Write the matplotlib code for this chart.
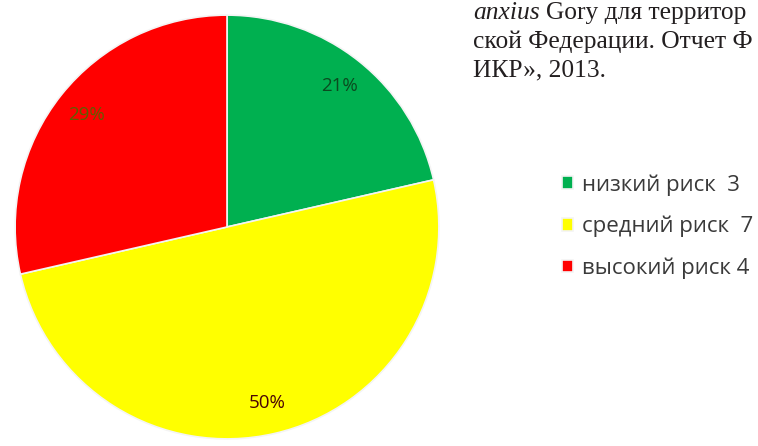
import matplotlib
matplotlib.use('Agg')
import matplotlib.pyplot as plt

# данные
labels = ['низкий риск  3', 'средний риск  7', 'высокий риск 4']
counts = [3, 7, 4]
colors = ['#00B050', '#FFFF00', '#FF0000']
pct_colors = ['#0b4a1f', '#4a0505', '#5e5e00']

W, H = 758, 446
fig = plt.figure(figsize=(W / 100, H / 100), dpi=100)

# круговая диаграмма
cx, cy, r = 227, 227, 214
ax = fig.add_axes([(cx - r) / W, (H - cy - r) / H, 2 * r / W, 2 * r / H])
wedges, texts, autotexts = ax.pie(
    counts, colors=colors, startangle=90, counterclock=False,
    autopct=lambda p: '%.0f%%' % p, pctdistance=0.85,
    wedgeprops=dict(edgecolor='#f4f4f4', linewidth=1.2),
    textprops=dict(family='Open Sans', fontsize=13.5))
for t, c in zip(autotexts, pct_colors):
    t.set_color(c)
ax.set_xlim(-1.01, 1.01)
ax.set_ylim(-1.01, 1.01)
ax.set_aspect('equal')
ax.axis('off')

# легенда
leg = fig.legend(wedges, labels, loc='upper left',
                 bbox_to_anchor=(562 / W, 1 - 174 / H),
                 frameon=False, borderpad=0, borderaxespad=0,
                 handlelength=0.5, handleheight=0.5,
                 handletextpad=0.4, labelspacing=0.91,
                 prop=dict(family='Open Sans', size=16))
for t in leg.get_texts():
    t.set_color('#3a3a3a')

# обрезанный текст документа сверху справа
serif = dict(family='Liberation Serif', fontsize=18.4, color='#231f20', va='center')
fig.text(473 / W, 1 - 13 / H, 'anxius', style='italic', **serif)
fig.text(546 / W, 1 - 13 / H, 'Gory для территор', **serif)
fig.text(473 / W, 1 - 42 / H, 'ской Федерации. Отчет Ф', **serif)
fig.text(473 / W, 1 - 70 / H, 'ИКР», 2013.', **serif)

fig.savefig('out.png', dpi=100)
